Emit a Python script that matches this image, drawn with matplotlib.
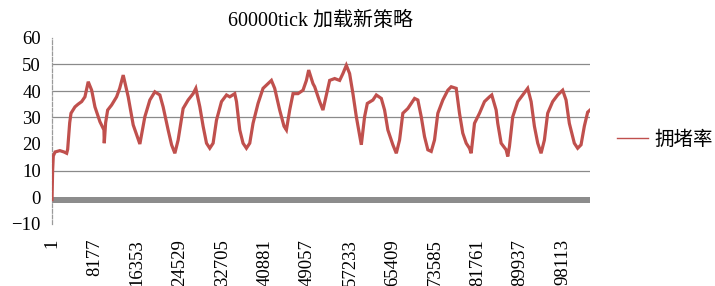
import matplotlib
matplotlib.use("Agg")
import matplotlib.pyplot as plt

plt.rcParams['font.family'] = ['Liberation Serif', 'Noto Sans CJK SC', 'DejaVu Sans']

title = "60000tick 加载新策略"
series_name = "拥堵率"

ticks = [1, 120, 250, 600, 1500, 2300, 2820, 3010, 3400, 3650, 4410, 5000, 5700, 6330, 6960,
         7620, 8250, 9210, 9980, 10040, 10300, 10690, 11450, 12410, 13000, 13680, 14640, 15600,
         16880, 17840, 18800, 19760, 20720, 21350, 22310, 22970, 23600, 24230, 25190, 26150,
         27110, 27630, 28400, 29030, 29680, 30310, 30950, 31600, 32560, 33520, 34150, 35110,
         35440, 36070, 36700, 37350, 37990, 38620, 39580, 40540, 41500, 42150, 42780, 43740,
         44570, 45030, 45660, 46300, 47260, 48220, 48870, 49310, 50130, 50460, 51420, 52050,
         52700, 53340, 54300, 55260, 55890, 56540, 57170, 57810, 58460, 59420, 60050, 60570,
         61650, 62300, 63260, 63890, 64520, 65480, 66140, 66770, 67400, 68360, 69650, 70280,
         70930, 71560, 72200, 72850, 73480, 74120, 75080, 76040, 76690, 77650, 78280, 78910,
         79570, 80200, 80520, 81160, 82120, 83080, 84040, 84480, 85320, 85630, 86280, 87240,
         87550, 87870, 88510, 89470, 90430, 91380, 92040, 92670, 93310, 93950, 94590, 95220,
         96180, 97140, 98100, 98750, 99380, 100340, 100980, 101630, 102260, 102900, 103350]

congestion = [-1, 10, 15.5, 17, 17.5, 17, 16.5, 18, 28, 31.6, 34, 35, 36, 37.8, 43.5,
              40.3, 34, 28.4, 25.3, 20.3, 28, 32.8, 34.7, 37.8, 41, 46, 37.8, 27.2,
              20, 30.3, 36.6, 39.7, 38.5, 34, 25.3, 19.7, 16.5, 21.5, 33.4, 36.6,
              39, 41, 34, 26.7, 20.3, 18.4, 20.3, 29, 36, 38.5, 37.8, 39,
              36, 25.3, 20.3, 18.4, 20.3, 27.8, 35.3, 41, 42.8, 44, 41, 32.8,
              26.7, 25.3, 32.8, 39, 39, 40.3, 44, 47.9, 42.8, 41.6, 36, 32.8,
              38.5, 44, 44.7, 44, 46.6, 49.7, 46.6, 39, 30.3, 19.7, 30.3, 35.3,
              36.6, 38.5, 37.2, 32.8, 25.3, 19.7, 16.5, 21.5, 31.6, 33.4, 37.2, 36.6,
              30.3, 22.8, 17.8, 17.2, 21.5, 31.6, 36.6, 40.3, 41.6, 41, 31.6, 24.1,
              20.3, 18.4, 16.5, 27.8, 31.6, 36, 37.8, 38.5, 32.8, 27.8, 20.3, 17.8,
              15.3, 19, 30.3, 36, 38.5, 41, 36, 26.7, 20.3, 16.5, 21.5, 31.6,
              36, 38.5, 40.3, 36.6, 27.8, 20.3, 18.4, 19.7, 26.7, 32, 32.8]

xtick_pos = [1, 8177, 16353, 24529, 32705, 40881, 49057, 57233, 65409, 73585, 81761, 89937, 98113]
xtick_labels = [str(v) for v in xtick_pos]
yticks = [-10, 0, 10, 20, 30, 40, 50, 60]
ytick_labels = ["\u221210", "0", "10", "20", "30", "40", "50", "60"]
grid_levels = [10, 30, 40, 50]

fig = plt.figure(figsize=(7.15, 2.86), dpi=100)
ax = fig.add_axes([52/715, 1-223.5/286, (590-52)/715, (223.5-38)/286])

for g in grid_levels:
    ax.axhline(g, color='#8a8a8a', lw=0.9, zorder=1)
ax.axhspan(-2.3, 0, color='#8c8c8c', lw=0, zorder=1)

ax.plot(ticks, congestion, color='#C0504D', lw=2.3, label=series_name, zorder=3,
        solid_joinstyle='miter')

ax.set_xlim(1, 103350)
ax.set_ylim(-10, 60)
ax.set_yticks(yticks)
ax.set_yticklabels(ytick_labels, fontsize=13.5)
ax.set_xticks(xtick_pos)
ax.set_xticklabels(xtick_labels, rotation=90, fontsize=13.5)
ax.tick_params(axis='both', length=0)
ax.tick_params(axis='y', pad=8)
ax.tick_params(axis='x', pad=11)

for s in ['top', 'right', 'bottom']:
    ax.spines[s].set_visible(False)
ax.spines['left'].set_color('#9a9a9a')
ax.spines['left'].set_linestyle((0, (3, 1.5)))
ax.spines['left'].set_linewidth(0.9)

ax.set_title(title, fontsize=14.4, pad=9)

fig.legend(loc='center left', bbox_to_anchor=(617/715, 1-140/286), frameon=False,
           fontsize=14, handlelength=1.6, handletextpad=0.35, borderpad=0,
           borderaxespad=0)
for line in fig.legends[0].get_lines():
    line.set_linewidth(1.0)

fig.savefig("out.png", dpi=100)
